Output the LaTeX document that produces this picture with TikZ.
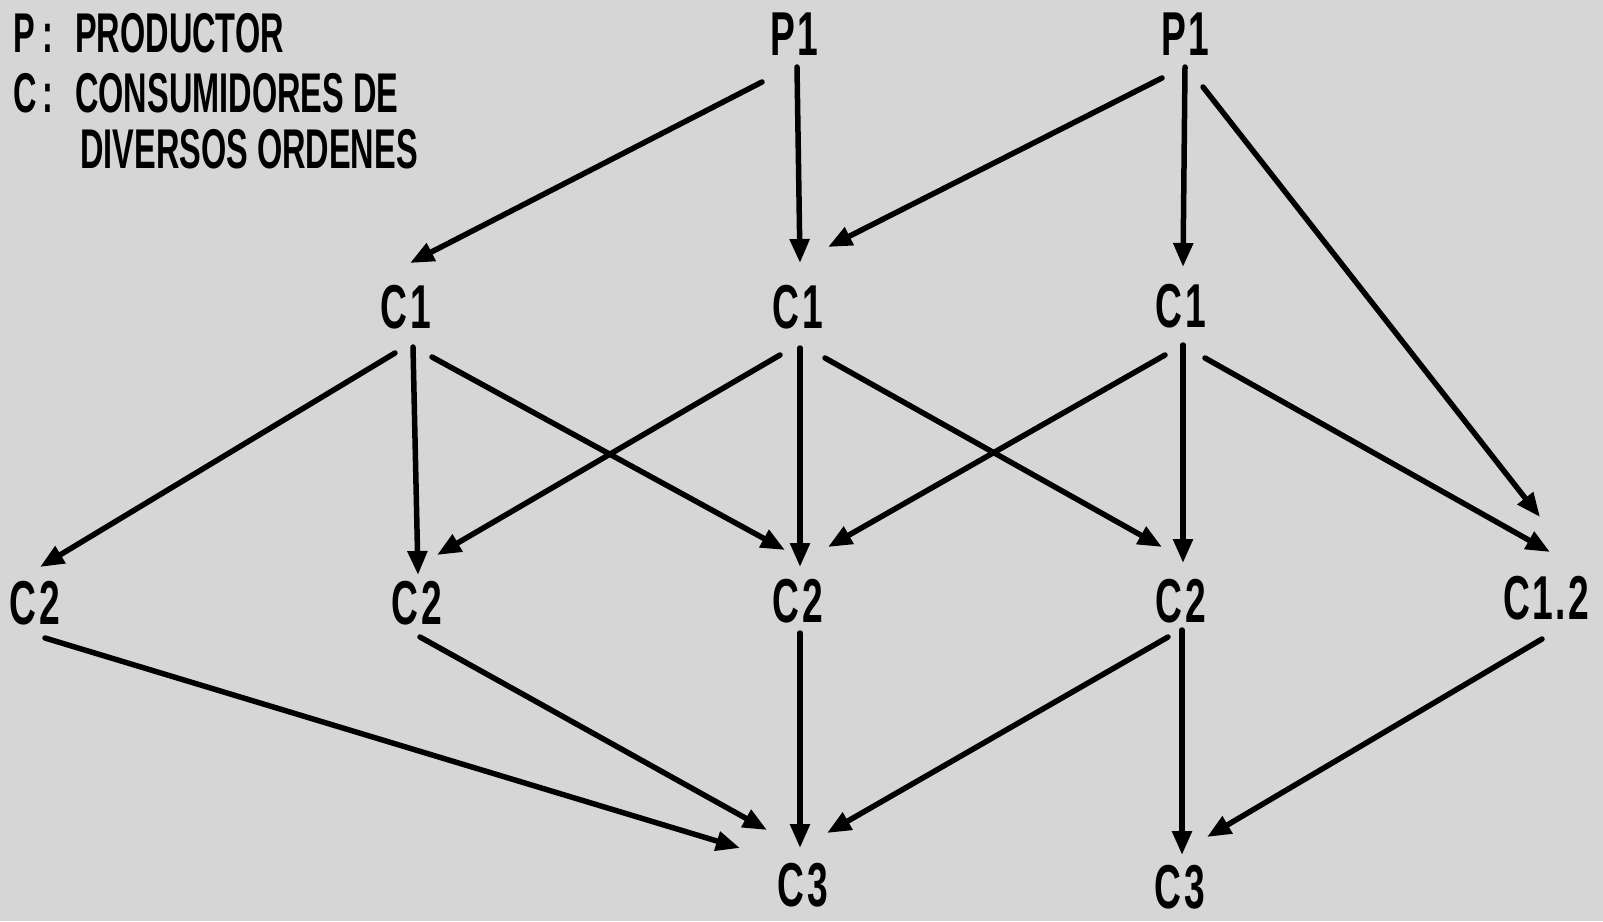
\documentclass[tikz,border=0pt]{standalone}
\usepackage{fontspec}
\setmainfont{Liberation Sans}
\newfontfamily\cond[FakeStretch=0.6,LetterSpace=4]{Liberation Sans}
\newfontfamily\condleg[FakeStretch=0.58]{Liberation Sans}
\usetikzlibrary{arrows.meta,calc}
\definecolor{bgcol}{gray}{0.84}
\begin{document}
\begin{tikzpicture}[x=1pt,y=-1pt,
  lab/.style={inner sep=0pt,font=\cond\bfseries\fontsize{62}{62}\selectfont},
  leg/.style={inner sep=0pt,anchor=base west,font=\condleg\bfseries\fontsize{56}{56}\selectfont},
  arr/.style={line width=5.5pt,line cap=round,-{Triangle[length=24pt,width=19pt]}}]
\fill[bgcol] (0,0) rectangle (1603,921);
\useasboundingbox (0,0) rectangle (1603,921);
% legend
\node[leg] (lp) at (13,52) {P};
\node[leg] (lpc) at (42,52) {:};
\node[leg] (lprod) at (75,52) {PRODUCTOR};
\node[leg] (lc) at (13,112) {C};
\node[leg] (lcc) at (42,112) {:};
\node[leg] (lcons) at (75,112) {CONSUMIDORES DE};
\node[leg] (ldiv) at (80,168) {DIVERSOS ORDENES};
% nodes
\node[lab] (p1l) at (794,34) {P1};
\node[lab] (p1r) at (1185,34) {P1};
\node[lab] (c1l) at (406,307) {C1};
\node[lab] (c1m) at (798,307) {C1};
\node[lab] (c1r) at (1181,306) {C1};
\node[lab] (c2a) at (35,603) {C2};
\node[lab] (c2b) at (417,603) {C2};
\node[lab] (c2c) at (798,601) {C2};
\node[lab] (c2d) at (1181,601) {C2};
\node[lab] (c12) at (1546,598) {C1.2};
\node[lab] (c3l) at (803,885) {C3};
\node[lab] (c3r) at (1180,887) {C3};
% connectors
\draw[arr] ($(p1l)+(-32,48)$) -- ($(c1l)+(4,-44)$);
\draw[arr] ($(p1l)+(3,33)$) -- ($(c1m)+(2,-44)$);
\draw[arr] ($(p1r)+(-23,44)$) -- ($(c1m)+(30,-60)$);
\draw[arr] ($(p1r)+(0,33)$) -- ($(c1r)+(2,-39)$);
\draw[arr] ($(p1r)+(18,53)$) -- ($(c12)+(-6,-81)$);
\draw[arr] ($(c1l)+(-11,46)$) -- ($(c2a)+(5,-36)$);
\draw[arr] ($(c1l)+(7,40)$) -- ($(c2b)+(1,-28)$);
\draw[arr] ($(c1l)+(26,50)$) -- ($(c2c)+(-13,-51)$);
\draw[arr] ($(c1m)+(-18,48)$) -- ($(c2b)+(20,-48)$);
\draw[arr] ($(c1m)+(2,41)$) -- ($(c2c)+(2,-34)$);
\draw[arr] ($(c1m)+(27,51)$) -- ($(c2d)+(-19,-54)$);
\draw[arr] ($(c1r)+(-16,49)$) -- ($(c2c)+(30,-54)$);
\draw[arr] ($(c1r)+(2,39)$) -- ($(c2d)+(2,-38)$);
\draw[arr] ($(c1r)+(24,52)$) -- ($(c12)+(4,-46)$);
\draw[arr] ($(c2a)+(10,35)$) -- ($(c3l)+(-63,-37)$);
\draw[arr] ($(c2b)+(3,34)$) -- ($(c3l)+(-36,-55)$);
\draw[arr] ($(c2c)+(2,32)$) -- ($(c3l)+(-3,-37)$);
\draw[arr] ($(c2d)+(-13,36)$) -- ($(c3l)+(24,-52)$);
\draw[arr] ($(c2d)+(1,29)$) -- ($(c3r)+(2,-32)$);
\draw[arr] ($(c12)+(-4,41)$) -- ($(c3r)+(27,-50)$);
\end{tikzpicture}
\end{document}
